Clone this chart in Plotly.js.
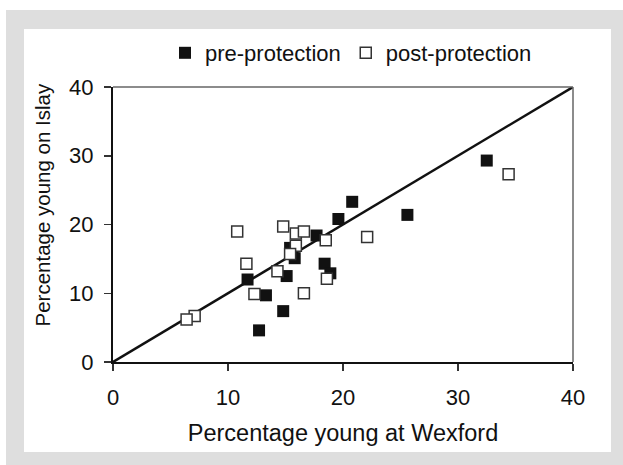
<!DOCTYPE html>
<html>
<head>
<meta charset="utf-8">
<script src="https://cdn.plot.ly/plotly-3.0.1.min.js"></script>
<style>
  html, body { margin: 0; padding: 0; background: #ffffff; width: 623px; height: 465px; overflow: hidden; }
  #frame { position: absolute; left: 6px; top: 10px; width: 617px; height: 455px; background: #dedede; }
  #inner { position: absolute; left: 24px; top: 29px; width: 587px; height: 423px; background: #ffffff; }
  #chart { position: absolute; left: 0; top: 0; width: 623px; height: 465px; }
</style>
</head>
<body>
<div id="frame"></div>
<div id="inner"></div>
<div id="chart"></div>
<script>
// Pre-protection (filled squares)
const preX = [32.5, 25.6, 20.8, 19.6, 17.7, 15.4, 15.8, 18.4, 18.9, 15.1, 11.7, 13.3, 14.8, 12.7];
const preY = [29.3, 21.4, 23.3, 20.8, 18.4, 16.6, 15.1, 14.3, 12.9, 12.5, 12.0, 9.7, 7.4, 4.6];
// Post-protection (open squares)
const postX = [10.8, 14.8, 15.9, 16.6, 18.5, 22.1, 15.9, 15.4, 11.6, 14.3, 18.6, 12.3, 16.6, 7.1, 6.4, 34.4];
const postY = [19.0, 19.7, 18.7, 19.0, 17.7, 18.2, 16.9, 15.7, 14.3, 13.2, 12.1, 9.9, 10.0, 6.7, 6.2, 27.3];
// 1:1 reference line
const lineX = [0, 40];
const lineY = [0, 40];
const tickVals = [0, 10, 20, 30, 40];
const tickText = ['0', '10', '20', '30', '40'];
const xTitle = 'Percentage young at Wexford';
const yTitle = 'Percentage young on Islay';

const FONT = 'Liberation Sans, Arial, sans-serif';

const traces = [
  {
    x: lineX, y: lineY, mode: 'lines', type: 'scatter',
    line: { color: '#111111', width: 2.5 },
    showlegend: false, hoverinfo: 'skip'
  },
  {
    x: preX, y: preY, mode: 'markers', type: 'scatter', name: 'pre-protection',
    marker: { symbol: 'square', size: 12, color: '#111111', line: { width: 0 } }
  },
  {
    x: postX, y: postY, mode: 'markers', type: 'scatter', name: 'post-protection',
    marker: { symbol: 'square', size: 11, color: '#ffffff', line: { width: 1.5, color: '#333333' } }
  }
];

// plot area in page pixels: left 113, top 87, width 460, height 275
const L = 113, T = 87, W = 460, H = 275;

const layout = {
  width: 623, height: 465,
  paper_bgcolor: 'rgba(0,0,0,0)',
  plot_bgcolor: 'rgba(0,0,0,0)',
  margin: { l: L, r: 623 - L - W, t: T, b: 465 - T - H, pad: 0 },
  font: { family: FONT, size: 22, color: '#111111' },
  showlegend: true,
  legend: {
    orientation: 'h',
    xref: 'container', yref: 'container',
    x: 165 / 623, xanchor: 'left',
    y: 1 - 53 / 465, yanchor: 'middle',
    font: { family: FONT, size: 22, color: '#111111' },
    bgcolor: 'rgba(0,0,0,0)', borderwidth: 0
  },
  xaxis: {
    range: [0, 40], tickvals: tickVals, ticktext: tickText,
    ticks: 'outside', ticklen: 7, tickwidth: 1.5, tickcolor: '#333333',
    showline: true, linecolor: '#111111', linewidth: 2,
    showgrid: false, zeroline: false,
    tickfont: { family: FONT, size: 22, color: '#111111' },
    ticklabelstandoff: 8,
    title: { text: xTitle, font: { family: FONT, size: 23.5, color: '#111111' }, standoff: 15 },
    fixedrange: true
  },
  yaxis: {
    range: [0, 40], tickvals: tickVals, ticktext: tickText,
    ticks: 'outside', ticklen: 7, tickwidth: 1.5, tickcolor: '#333333',
    showline: true, linecolor: '#111111', linewidth: 2,
    showgrid: false, zeroline: false,
    tickfont: { family: FONT, size: 22, color: '#111111' },
    ticklabelstandoff: 6,
    fixedrange: true
  },
  annotations: [
    {
      text: yTitle, textangle: -90, showarrow: false,
      xref: 'paper', yref: 'paper',
      x: (41.5 - L) / W, y: (T + H - 205) / H,
      xanchor: 'center', yanchor: 'middle',
      font: { family: FONT, size: 20.5, color: '#111111' }
    }
  ],
  shapes: [
    { type: 'line', xref: 'paper', yref: 'paper', x0: 0, x1: 1, y0: 1, y1: 1, line: { color: '#666666', width: 1.5 } },
    { type: 'line', xref: 'paper', yref: 'paper', x0: 1, x1: 1, y0: 0, y1: 1, line: { color: '#666666', width: 1.5 } }
  ]
};

Plotly.newPlot('chart', traces, layout, { displayModeBar: false, staticPlot: true });
</script>
</body>
</html>
